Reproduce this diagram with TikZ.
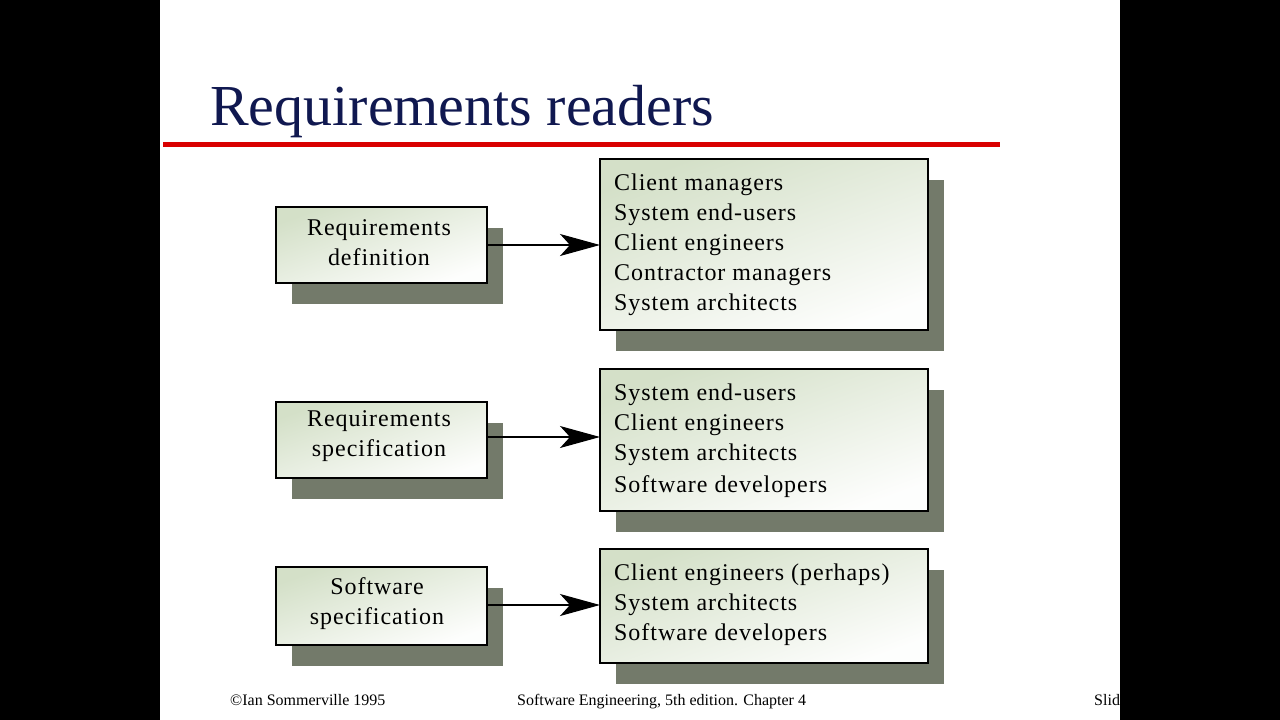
\documentclass[tikz,border=0pt]{standalone}
\usepackage{fontspec}
\setmainfont{Liberation Serif}
\usetikzlibrary{arrows.meta}
\definecolor{navy}{RGB}{16,24,80}
\definecolor{shad}{RGB}{115,122,106}
\definecolor{boxg}{RGB}{212,224,200}
\begin{document}
\begin{tikzpicture}[x=1pt,y=-1pt,
  lab/.style={font=\fontsize{24}{30}\selectfont\addfontfeature{LetterSpace=4},align=center},
  rlab/.style={font=\fontsize{24}{30}\selectfont\addfontfeature{LetterSpace=4},align=left,anchor=north west,inner sep=0pt},
  arr/.style={line width=1.2pt,-{Stealth[length=40pt,width=22pt,inset=10pt]}},
  foot/.style={font=\fontsize{16}{18}\selectfont,anchor=base west,inner sep=0pt}]
\useasboundingbox (0,0) rectangle (1280,720);
\fill[black] (0,0) rectangle (1280,720);
\fill[white] (160,0) rectangle (1120,720);
\node[anchor=base west,inner sep=0pt,text=navy,font=\fontsize{58}{60}\selectfont] (title) at (210,125) {Requirements readers};
\fill[red!85!black] (163,142) rectangle (1000,147);
\foreach \a/\b/\c/\d in {276/207/487/283, 600/159/928/330, 276/402/487/478, 600/369/928/511, 276/567/487/645, 600/549/928/663}{
  \fill[shad] (\a+16,\b+21) rectangle (\c+16,\d+21);
  \shade[top color=boxg,bottom color=white!96!boxg,shading angle=20] (\a,\b) rectangle (\c,\d);
  \draw[line width=1.6pt] (\a,\b) rectangle (\c,\d);
}
\coordinate (L1) at (379,243); \coordinate (L2) at (379,436); \coordinate (L3) at (377,604);
\node[lab] (l1) at (L1) {Requirements\\definition};
\node[lab] (l2) at (L2) {Requirements\\specification};
\node[lab] (l3) at (L3) {Software\\specification};
\node[rlab] (r1) at (614,174) {Client managers\\System end-users\\Client engineers\\Contractor managers\\System architects};
\node[rlab] (r2) at (614,384) {System end-users\\Client engineers\\System architects\\[2pt]Software developers};
\node[rlab] (r3) at (614,564) {Client engineers (perhaps)\\System architects\\Software developers};
\coordinate (a1s) at (487,245); \coordinate (a1e) at (600,245);
\coordinate (a2s) at (487,437); \coordinate (a2e) at (600,437);
\coordinate (a3s) at (487,605); \coordinate (a3e) at (600,605);
\draw[arr] (a1s) -- (a1e);
\draw[arr] (a2s) -- (a2e);
\draw[arr] (a3s) -- (a3e);
\node[foot] (f1) at (230,705) {©Ian Sommerville 1995};
\node[foot] (f2) at (517,705) {Software Engineering, 5th edition. Chapter 4};
\node[foot] (f3) at (1094,705) {Slide 1};
\fill[black] (1120,0) rectangle (1280,720);
\end{tikzpicture}
\end{document}
